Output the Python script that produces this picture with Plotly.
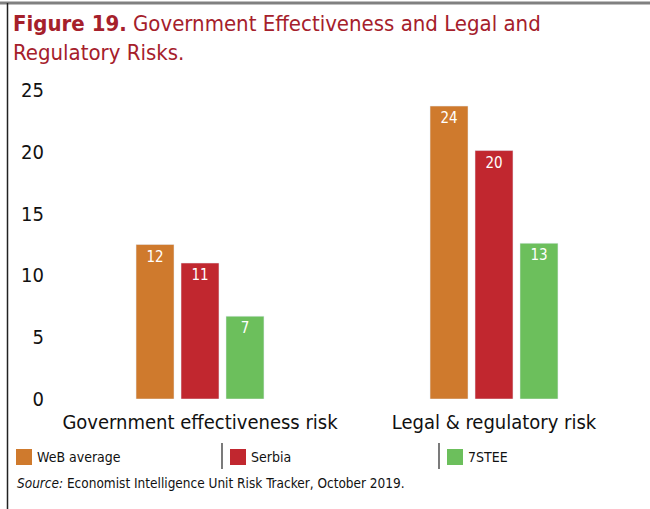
import plotly.graph_objects as go

categories = ["Government effectiveness risk", "Legal & regulatory risk"]
series_names = ["WeB average", "Serbia", "7STEE"]
web_average = [12.5, 23.7]
serbia = [11.0, 20.1]
stee7 = [6.7, 12.6]
web_labels = ["12", "24"]
serbia_labels = ["11", "20"]
stee7_labels = ["7", "13"]
y_ticks = [0, 5, 10, 15, 20, 25]

colors = ["#CF7A2D", "#C1272F", "#6CBF5C"]
FONT = "DejaVu Sans Condensed, Roboto, sans-serif"

W, H = 650, 509
ML, MR, MT, MB = 53, 9, 90, 110
PW = W - ML - MR
PH = H - MT - MB


def xp(px):
    return (px - ML) / PW


def yp(py):
    return (H - MB - py) / PH


fig = go.Figure()
for name, vals, labs, col in zip(series_names, [web_average, serbia, stee7],
                                  [web_labels, serbia_labels, stee7_labels], colors):
    fig.add_trace(go.Bar(
        x=categories, y=vals, name=name, marker_color=col,
        text=labs, textposition="inside", insidetextanchor="end",
        textfont=dict(color="white", size=15, family=FONT),
        showlegend=False,
    ))

shapes = []
annotations = []
# frame
shapes.append(dict(type="line", xref="paper", yref="paper", x0=xp(0), x1=xp(650), y0=yp(3), y1=yp(3),
                   line=dict(color="#808080", width=3)))
shapes.append(dict(type="line", xref="paper", yref="paper", x0=xp(7.5), x1=xp(7.5), y0=yp(3), y1=yp(509),
                   line=dict(color="#222222", width=1.5)))

# title
annotations.append(dict(
    xref="paper", yref="paper", x=xp(11), y=yp(9), xanchor="left", yanchor="top", align="left",
    showarrow=False,
    text="<b>Figure 19.</b> Government Effectiveness and Legal and<br>Regulatory Risks.",
    font=dict(family=FONT, size=22, color="#A5202B"),
))

# legend
leg_sq = [16, 230, 447]
leg_sep = [222, 439]
for x0, name, col in zip(leg_sq, series_names, colors):
    shapes.append(dict(type="rect", xref="paper", yref="paper", x0=xp(x0), x1=xp(x0 + 16),
                       y0=yp(465), y1=yp(449), fillcolor=col, line=dict(width=0)))
    annotations.append(dict(xref="paper", yref="paper", x=xp(x0 + 19), y=yp(457), xanchor="left",
                            yanchor="middle", showarrow=False, text=name,
                            font=dict(family=FONT, size=14, color="#111111")))
for sx in leg_sep:
    shapes.append(dict(type="line", xref="paper", yref="paper", x0=xp(sx), x1=xp(sx),
                       y0=yp(469), y1=yp(443), line=dict(color="#222222", width=1.2)))

# source
annotations.append(dict(xref="paper", yref="paper", x=xp(15), y=yp(483), xanchor="left", yanchor="middle",
                        showarrow=False,
                        text="<i>Source:</i> Economist Intelligence Unit Risk Tracker, October 2019.",
                        font=dict(family=FONT, size=13.5, color="#111111")))

fig.update_layout(
    width=W, height=H,
    margin=dict(l=ML, r=MR, t=MT, b=MB, pad=0),
    paper_bgcolor="white", plot_bgcolor="white",
    barmode="group", bargap=0.541, bargroupgap=0.156,
    shapes=shapes, annotations=annotations,
    font=dict(family=FONT, color="#111111"),
    uniformtext=dict(mode=False),
)
fig.update_xaxes(showgrid=False, showline=False, ticks="", zeroline=False,
                 tickfont=dict(size=20, family=FONT, color="#111111"), ticklabelstandoff=9)
fig.update_yaxes(range=[0, 25], tickvals=y_ticks, showgrid=False, showline=False, zeroline=False,
                 ticks="", tickfont=dict(size=20, family=FONT, color="#111111"), ticklabelstandoff=8)

fig.write_html("out.html", config={"displayModeBar": False},
               post_script="document.body.style.margin='0';")
